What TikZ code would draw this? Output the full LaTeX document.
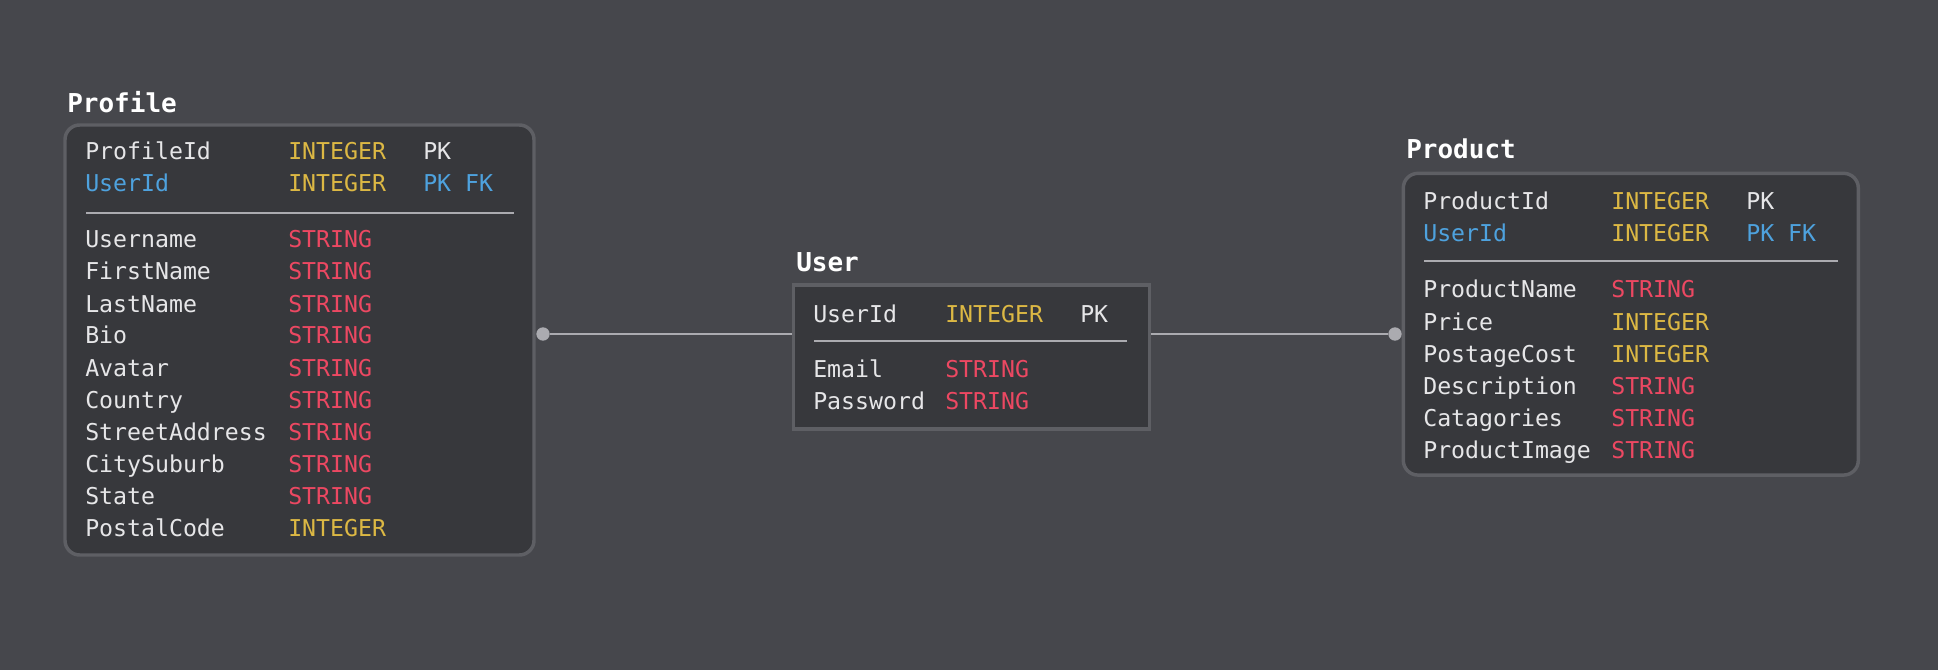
\documentclass[tikz,border=0pt]{standalone}
\usepackage{fontspec}
\setmonofont{DejaVu Sans Mono}
\usepackage{tikz}
\definecolor{bgcol}{HTML}{46474C}
\definecolor{boxfill}{HTML}{37383C}
\definecolor{boxline}{HTML}{5E5F64}
\definecolor{fieldcol}{HTML}{E6E6E8}
\definecolor{intcol}{HTML}{DCB844}
\definecolor{strcol}{HTML}{EC4862}
\definecolor{keycol}{HTML}{4EA2DE}
\definecolor{linkcol}{HTML}{ABABB0}
\tikzset{tablebox/.style={draw=boxline, fill=boxfill, line width=2.6pt, rounded corners=11pt, inner sep=0pt},
    title/.style={anchor=base west, inner sep=0pt, text=white, font=\ttfamily\bfseries\fontsize{19.5}{22}\selectfont},
    field/.style={anchor=base west, inner sep=0pt, text=fieldcol, font=\ttfamily\fontsize{17.4}{20}\selectfont},
    inttype/.style={field, text=intcol},
    strtype/.style={field, text=strcol},
    keyfield/.style={field, text=keycol},
    sepline/.style={draw=linkcol, line width=1.3pt},
    link/.style={draw=linkcol, line width=1.5pt},
    enddot/.style={circle, fill=linkcol, inner sep=0pt, minimum size=10pt}
}

\begin{document}
\begin{tikzpicture}[x=0.75pt, y=-0.75pt]
            \fill[bgcol] (0,0) rectangle (1938,670);
            \useasboundingbox (0,0) rectangle (1938,670);
            % Profile
            \node[title] (proftitle) at (67, 113) {Profile};
            \node[tablebox, minimum width=351.75pt, minimum height=322.5pt] (profile) at (299.5, 340) {};
            \node[field] (profid) at (85, 160) {ProfileId};
            \node[inttype] (profidt) at (288, 160) {INTEGER};
            \node[field] (profidk) at (423, 160) {PK};
            \node[keyfield] (profuid) at (85, 192) {UserId};
            \node[inttype] (profuidt) at (288, 192) {INTEGER};
            \node[keyfield] (profuidk) at (423, 192) {PK FK};
            \draw[sepline] (86, 213) -- (514, 213);
            \node[field] (profa) at (85, 248) {Username};
            \node[strtype] (profat) at (288, 248) {STRING};
            \node[field] (profb) at (85, 280) {FirstName};
            \node[strtype] (profbt) at (288, 280) {STRING};
            \node[field] (profc) at (85, 312) {LastName};
            \node[strtype] (profct) at (288, 312) {STRING};
            \node[field] (profd) at (85, 344) {Bio};
            \node[strtype] (profdt) at (288, 344) {STRING};
            \node[field] (profe) at (85, 376) {Avatar};
            \node[strtype] (profet) at (288, 376) {STRING};
            \node[field] (proff) at (85, 408) {Country};
            \node[strtype] (profft) at (288, 408) {STRING};
            \node[field] (profg) at (85, 440) {StreetAddress};
            \node[strtype] (profgt) at (288, 440) {STRING};
            \node[field] (profh) at (85, 472) {CitySuburb};
            \node[strtype] (profht) at (288, 472) {STRING};
            \node[field] (profi) at (85, 504) {State};
            \node[strtype] (profit) at (288, 504) {STRING};
            \node[field] (profj) at (85, 536) {PostalCode};
            \node[inttype] (profjt) at (288, 536) {INTEGER};
            % User
            \node[title] (usertitle) at (796, 272) {User};
            \node[tablebox, rounded corners=0pt, minimum width=267pt, minimum height=108pt] (user) at (971.5, 357) {};
            \node[field] (userid) at (813, 322) {UserId};
            \node[inttype] (useridt) at (945, 322) {INTEGER};
            \node[field] (useridk) at (1080, 322) {PK};
            \draw[sepline] (814, 341) -- (1127, 341);
            \node[field] (usera) at (813, 377) {Email};
            \node[strtype] (userat) at (945, 377) {STRING};
            \node[field] (userb) at (813, 409) {Password};
            \node[strtype] (userbt) at (945, 409) {STRING};
            % Product
            \node[title] (prodtitle) at (1406, 159) {Product};
            \node[tablebox, minimum width=341.25pt, minimum height=226.3pt] (product) at (1630.8, 324.2) {};
            \node[field] (prodid) at (1423, 210) {ProductId};
            \node[inttype] (prodidt) at (1611, 210) {INTEGER};
            \node[field] (prodidk) at (1746, 210) {PK};
            \node[keyfield] (produid) at (1423, 242) {UserId};
            \node[inttype] (produidt) at (1611, 242) {INTEGER};
            \node[keyfield] (produidk) at (1746, 242) {PK FK};
            \draw[sepline] (1424, 261) -- (1838, 261);
            \node[field] (proda) at (1423, 298) {ProductName};
            \node[strtype] (prodat) at (1611, 298) {STRING};
            \node[field] (prodb) at (1423, 330) {Price};
            \node[inttype] (prodbt) at (1611, 330) {INTEGER};
            \node[field] (prodc) at (1423, 362) {PostageCost};
            \node[inttype] (prodct) at (1611, 362) {INTEGER};
            \node[field] (prodd) at (1423, 394) {Description};
            \node[strtype] (proddt) at (1611, 394) {STRING};
            \node[field] (prode) at (1423, 426) {Catagories};
            \node[strtype] (prodet) at (1611, 426) {STRING};
            \node[field] (prodf) at (1423, 458) {ProductImage};
            \node[strtype] (prodft) at (1611, 458) {STRING};
            % links
            \node[enddot] (profdot) at (543, 334) {};
            \node[enddot] (proddot) at (1395, 334) {};
            \draw[link] (profdot) -- (profdot -| user.west);
            \draw[link] (proddot) -- (proddot -| user.east);
        \end{tikzpicture}
\end{document}
